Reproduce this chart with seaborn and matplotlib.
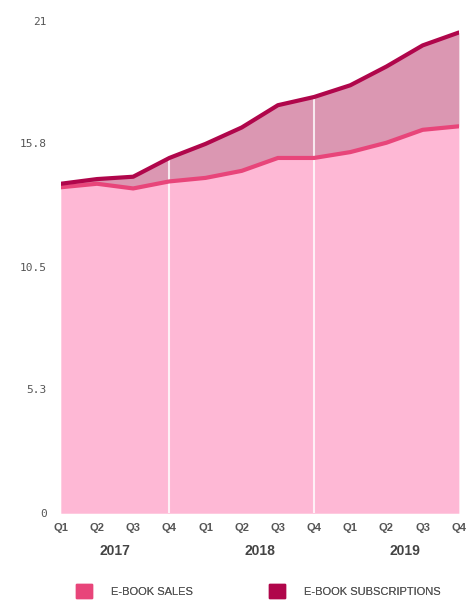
import pandas as pd
import matplotlib.pyplot as plt
import matplotlib.transforms as mtransforms
import matplotlib.patches as mpatches
import seaborn as sns

# data
quarters = ['Q1', 'Q2', 'Q3', 'Q4'] * 3
years = ['2017', '2018', '2019']
ebook_sales = [13.9, 14.05, 13.85, 14.15, 14.3, 14.6, 15.15, 15.15, 15.4, 15.8, 16.35, 16.5]
ebook_subscriptions = [0.15, 0.2, 0.5, 1.0, 1.45, 1.85, 2.25, 2.6, 2.85, 3.25, 3.6, 4.0]
y_ticks = [0, 5.3, 10.5, 15.8, 21]

sales_line = '#E8457A'
sales_fill = '#FEB8D5'
subs_line = '#B0064B'
subs_fill = '#DB97B2'

df = pd.DataFrame({
    'idx': range(len(quarters)),
    'sales': ebook_sales,
    'subs': ebook_subscriptions,
})
df['total'] = df['sales'] + df['subs']

sns.set_theme(style="white")
plt.rcParams['font.family'] = ['Liberation Sans', 'DejaVu Sans']

fig = plt.figure(figsize=(4.75, 6.11), dpi=100)
ax = fig.add_axes([0.128, 0.160, 0.838, 0.806])

# stacked areas
ax.fill_between(df['idx'], 0, df['sales'], color=sales_fill, lw=0, zorder=1)
ax.fill_between(df['idx'], df['sales'], df['total'], color=subs_fill, lw=0, zorder=1)

# year separators
for x in [3, 7]:
    ax.axvline(x, color='white', lw=1.5, alpha=0.8, zorder=2)

sns.lineplot(data=df, x='idx', y='sales', color=sales_line, lw=3, ax=ax, zorder=3)
sns.lineplot(data=df, x='idx', y='total', color=subs_line, lw=3, ax=ax, zorder=4)

ax.set_xlim(0, len(quarters) - 1)
ax.set_ylim(0, 21)
ax.set_yticks(y_ticks)
ax.set_yticklabels(['0', '5.3', '10.5', '15.8', '21'], family='DejaVu Sans Mono',
                   fontsize=8, color='#555555')
ax.set_xticks(df['idx'])
ax.set_xticklabels(quarters, fontsize=8, fontweight='bold', color='#555555')
ax.tick_params(axis='y', length=0, pad=10)
ax.tick_params(axis='x', length=0, pad=7)
ax.set_xlabel('')
ax.set_ylabel('')
for s in ax.spines.values():
    s.set_visible(False)

trans = mtransforms.blended_transform_factory(ax.transData, fig.transFigure)
for i, yr in enumerate(years):
    ax.text(i * 4 + 1.5, 1 - 551 / 611, yr, transform=trans, ha='center', va='center',
            fontsize=10, fontweight='bold', color='#444444')

# legend, one entry per box so each sits where the reference puts it
entries = [(sales_line, 'E-BOOK SALES', 76 / 475), (subs_line, 'E-BOOK SUBSCRIPTIONS', 269 / 475)]
for col, lab, xpos in entries:
    leg = fig.legend(handles=[mpatches.Patch(color=col, label=lab)], loc='center left',
                     bbox_to_anchor=(xpos, 1 - 591 / 611), frameon=False, fontsize=8,
                     handlelength=1.45, handleheight=1.45, handletextpad=1.7,
                     borderpad=0, borderaxespad=0, labelcolor='#555555')
    fig.add_artist(leg)

fig.savefig('out.png', dpi=100)
